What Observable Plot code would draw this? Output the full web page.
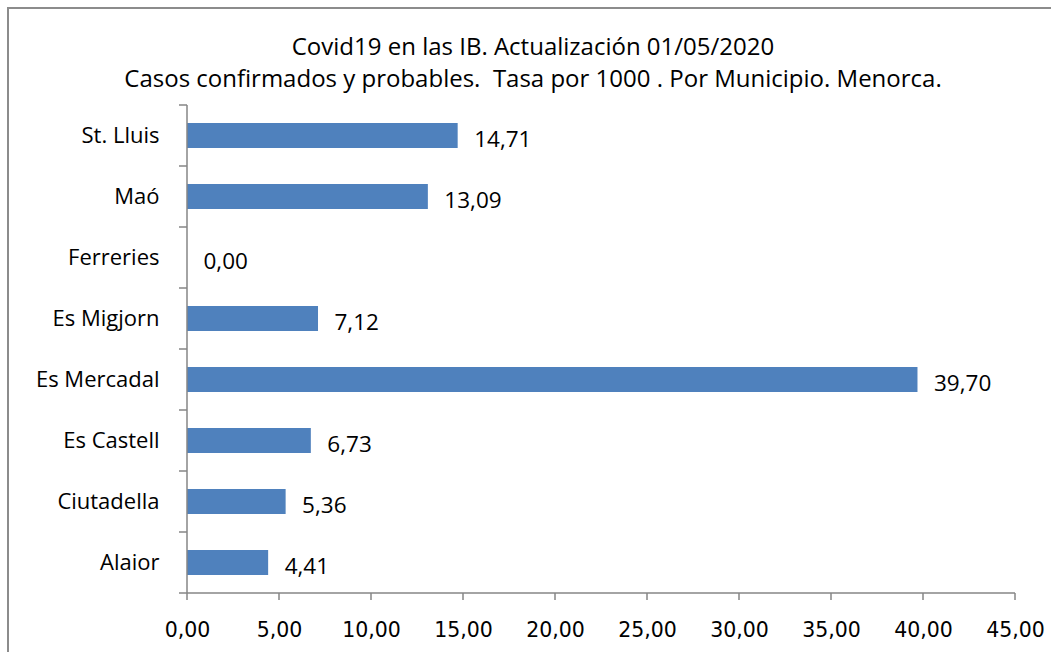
<!DOCTYPE html>
<html>
<head>
<meta charset="utf-8">
<script src="https://cdn.jsdelivr.net/npm/d3@7"></script>
<script src="https://cdn.jsdelivr.net/npm/@observablehq/plot@0.6"></script>
<style>
  html, body { margin: 0; padding: 0; background: #fff; }
  #wrap { position: relative; width: 1051px; height: 652px; overflow: hidden; font-family: "Open Sans", sans-serif; }
  #frame { position: absolute; left: 7px; top: 7px; width: 1100px; height: 700px; border: 2px solid #8c8c8c; box-sizing: border-box; }
  #title { position: absolute; left: 0; width: 1066px; top: 30px; text-align: center; font-size: 24px; line-height: 32px; color: #000; }
  #chart { position: absolute; left: 0; top: 0; }
</style>
</head>
<body>
<div id="wrap">
  <div id="frame"></div>
  <div id="chart"></div>
  <div id="title">Covid19 en las IB. Actualización 01/05/2020<br>Casos confirmados y probables.&nbsp; Tasa por 1000 . Por Municipio. Menorca.</div>
</div>
<script>
const municipios = ["St. Lluis", "Maó", "Ferreries", "Es Migjorn", "Es Mercadal", "Es Castell", "Ciutadella", "Alaior"];
const tasas = [14.71, 13.09, 0.00, 7.12, 39.70, 6.73, 5.36, 4.41];
const xTicks = [0, 5, 10, 15, 20, 25, 30, 35, 40, 45];

const data = municipios.map((m, i) => ({municipio: m, tasa: tasas[i]}));
const fmt = v => v.toFixed(2).replace(".", ",");
const axisColor = "#868686";

const axes = (index, scales, values, dims) => {
  const {x, y} = scales;
  const g = d3.create("svg:g").attr("stroke", axisColor).attr("stroke-width", 1.5).attr("fill", "none");
  const dom = y.domain();
  const bw = y.bandwidth ? y.bandwidth() : 0;
  const step = y.step ? y.step() : (y(dom[1]) - y(dom[0]));
  const top = y(dom[0]) + bw / 2 - step / 2;
  const bottom = y(dom[dom.length - 1]) + bw / 2 + step / 2;
  const x0 = x(xTicks[0]);
  const x1 = x(xTicks[xTicks.length - 1]);
  g.append("line").attr("x1", x0).attr("x2", x0).attr("y1", top).attr("y2", bottom);
  g.append("line").attr("x1", x0).attr("x2", x1).attr("y1", bottom).attr("y2", bottom);
  for (let i = 0; i <= dom.length; i++) {
    const yy = top + i * step;
    g.append("line").attr("x1", x0 - 8).attr("x2", x0).attr("y1", yy).attr("y2", yy);
  }
  for (const t of xTicks) {
    g.append("line").attr("x1", x(t)).attr("x2", x(t)).attr("y1", bottom).attr("y2", bottom + 7);
  }
  return g.node();
};

const chart = Plot.plot({
  width: 1051,
  height: 652,
  marginLeft: 187,
  marginRight: 36,
  marginTop: 103,
  marginBottom: 57,
  style: {fontFamily: "'Open Sans', sans-serif", background: "transparent", color: "#000"},
  x: {domain: [0, 45], ticks: xTicks},
  y: {domain: municipios, paddingInner: 0.593, paddingOuter: 0.2965, label: null},
  marks: [
    Plot.barX(data, {x: "tasa", y: "municipio", fill: "#4F81BD"}),
    Plot.text(data, {x: "tasa", y: "municipio", text: d => fmt(d.tasa), textAnchor: "start", dx: 16, dy: 4, fontSize: 22.5, fill: "#000"}),
    Plot.axisY({tickSize: 0, tickPadding: 28, fontSize: 22, label: null}),
    Plot.axisX({ticks: xTicks, tickSize: 0, tickPadding: 27, tickFormat: fmt, fontSize: 20.5, fontFamily: "DejaVu Sans", label: null}),
    axes
  ]
});

document.getElementById("chart").appendChild(chart);
</script>
</body>
</html>
